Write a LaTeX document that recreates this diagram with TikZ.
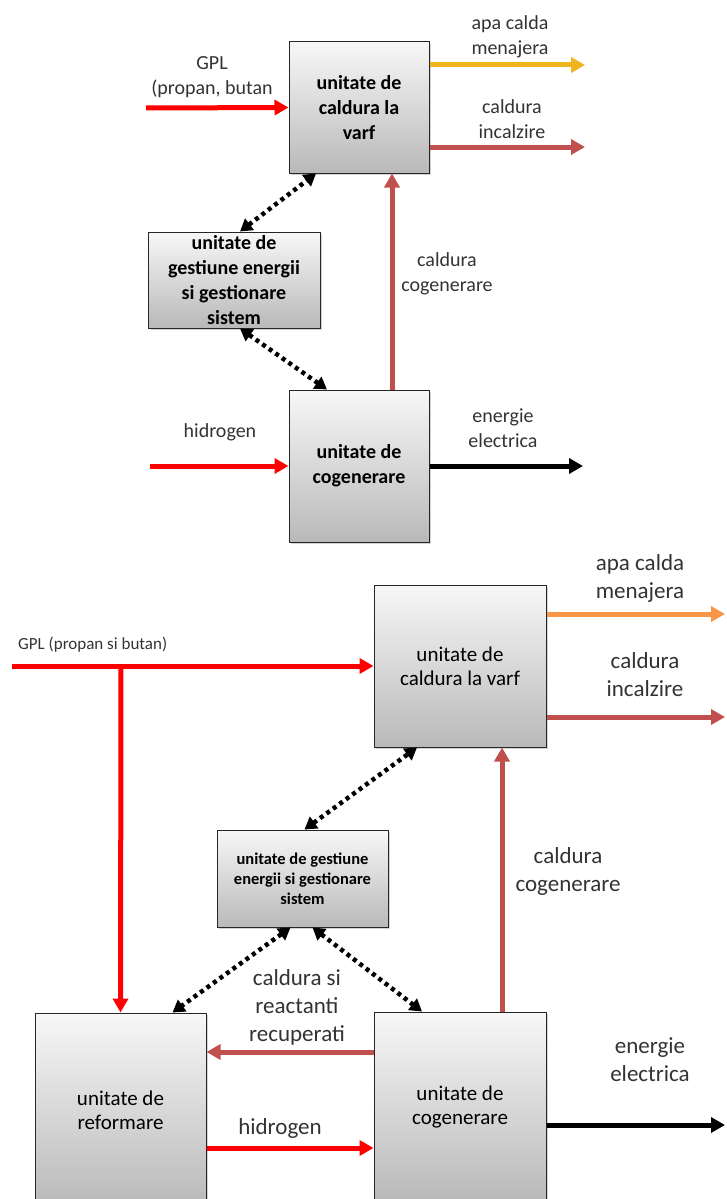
\documentclass[tikz,border=0pt]{standalone}
\usepackage{fontspec}
\setmainfont{Carlito}
\usetikzlibrary{arrows.meta,shadows}
\definecolor{gplred}{RGB}{255,0,0}
\definecolor{heatred}{RGB}{192,80,77}
\definecolor{apayellow}{RGB}{240,180,30}
\definecolor{apaorange}{RGB}{247,150,70}

\begin{document}
\begin{tikzpicture}[x=1pt,y=-1pt,
  unit/.style={draw=black!85,line width=1pt,top color=gray!6,bottom color=gray!55,drop shadow={opacity=0.35,shadow xshift=2pt,shadow yshift=-2pt},align=center,inner sep=0pt},
  flow/.style={line width=5pt,-{Triangle[length=14pt,width=15pt]}},
  ctrl/.style={line width=4.5pt,dash pattern=on 4pt off 4pt,{Triangle[length=12pt,width=14pt]}-{Triangle[length=12pt,width=14pt]}},
  lbl/.style={align=center,text=black!80,inner sep=0pt},
  fA/.style={font=\fontsize{20}{25}\selectfont},
  fAb/.style={font=\fontsize{20}{25}\selectfont\bfseries},
  fC/.style={font=\fontsize{21}{24}\selectfont},
  fS/.style={font=\fontsize{16.5}{20}\selectfont\bfseries},
  fG/.style={font=\fontsize{17}{20}\selectfont},
  fL/.style={font=\fontsize{23}{28}\selectfont}]
\clip (0,0) rectangle (727,1199);
\node[unit,fAb,minimum width=140pt,minimum height=131pt] (varfA) at (359,107.5) {unitate de\\caldura la\\varf};
\node[unit,fAb,minimum width=172pt,minimum height=96pt] (gestA) at (234,280) {unitate de\\gestiune energii\\si gestionare\\sistem};
\node[unit,fAb,minimum width=140pt,minimum height=152pt] (cogA) at (359,466) {unitate de\\cogenerare};
\coordinate (gplA) at (146,108);
\coordinate (apaA) at (585,65);
\coordinate (incA) at (585,147);
\coordinate (hidA) at (150,466);
\coordinate (elA) at (583,466);
\draw[flow,gplred] (gplA) -- (varfA.west);
\draw[flow,apayellow] (varfA.east |- apaA) -- (apaA);
\draw[flow,heatred] (varfA.east |- incA) -- (incA);
\draw[flow,heatred] ([xshift=33pt]cogA.north) -- ([xshift=33pt]varfA.south);
\draw[flow,gplred] (hidA) -- (cogA.west);
\draw[flow,black] (cogA.east) -- (elA);
\draw[ctrl] ([xshift=6pt]gestA.north) -- ([xshift=-43pt]varfA.south);
\draw[ctrl] ([xshift=6pt]gestA.south) -- ([xshift=-32pt]cogA.north);
\node[lbl,fA] (gplAt) at (212,77) {GPL\\(propan, butan};
\node[lbl,fA] (apaAt) at (510,37) {apa calda\\menajera};
\node[lbl,fA] (incAt) at (512,119) {caldura\\incalzire};
\node[lbl,fA] (cogAt) at (447,274) {caldura\\cogenerare};
\node[lbl,fA] (hidAt) at (220,432) {hidrogen};
\node[lbl,fA] (elAt) at (503,428) {energie\\electrica};
\node[unit,fC,minimum width=172pt,minimum height=162pt] (varfB) at (460,666) {unitate de\\caldura la varf};
\node[unit,fS,minimum width=171pt,minimum height=97pt] (gestB) at (302.5,878.5) {unitate de gestiune\\energii si gestionare\\sistem};
\node[unit,fC,minimum width=171pt,minimum height=194pt] (reformB) at (120.5,1110) {unitate de\\reformare};
\node[unit,fC,minimum width=172pt,minimum height=190pt] (cogB) at (460,1107) {unitate de\\cogenerare};
\coordinate (gplB) at (12,666);
\coordinate (splitB) at (121,666);
\coordinate (apaB) at (725,614);
\coordinate (incB) at (725,717);
\coordinate (elB) at (725,1125);
\draw[flow,gplred] (gplB) -- (varfB.west);
\draw[flow,gplred] (splitB) -- (reformB.north);
\draw[flow,apaorange] (varfB.east |- apaB) -- (apaB);
\draw[flow,heatred] (varfB.east |- incB) -- (incB);
\draw[flow,heatred] ([xshift=42pt]cogB.north) -- ([xshift=42pt]varfB.south);
\draw[flow,heatred] ([yshift=55pt]cogB.west) -- ([yshift=58pt]reformB.east);
\draw[flow,gplred] ([yshift=-38pt]reformB.east) -- ([yshift=-41pt]cogB.west);
\draw[flow,black] ([yshift=-18pt]cogB.east) -- (elB);
\draw[ctrl] ([xshift=2pt]gestB.north) -- ([xshift=-43pt]varfB.south);
\draw[ctrl] ([xshift=-12pt]gestB.south) -- ([xshift=52pt]reformB.north);
\draw[ctrl] ([xshift=10pt]gestB.south) -- ([xshift=-38pt]cogB.north);
\node[lbl,fG,anchor=west] (gplBt) at (18,645) {GPL (propan si butan)};
\node[lbl,fL] (apaBt) at (640,578) {apa calda\\menajera};
\node[lbl,fL] (incBt) at (645,675) {caldura\\incalzire};
\node[lbl,fL] (cogBt) at (568,871) {caldura\\cogenerare};
\node[lbl,fL] (recBt) at (297,1007) {caldura si\\reactanti\\recuperati};
\node[lbl,fL] (hidBt) at (280,1128) {hidrogen};
\node[lbl,fL] (elBt) at (650,1060) {energie\\electrica};
\end{tikzpicture}
\end{document}
